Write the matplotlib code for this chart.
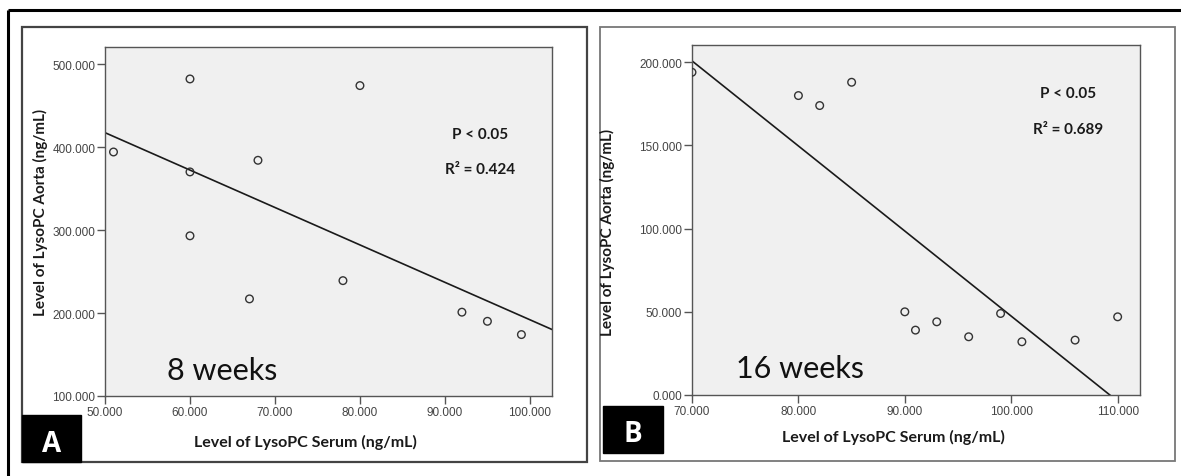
import numpy as np
import matplotlib
matplotlib.use("Agg")
import matplotlib.pyplot as plt
from matplotlib.patches import Rectangle

# ---------------- data ----------------
serum_8w = [51, 60, 80, 68, 60, 60, 67, 78, 92, 95, 99]
aorta_8w = [394, 482, 474, 384, 370, 293, 217, 239, 201, 190, 174]

serum_16w = [70, 80, 82, 85, 90, 91, 93, 96, 99, 101, 106, 110]
aorta_16w = [194, 180, 174, 188, 50, 39, 44, 35, 49, 32, 33, 47]

xticks_8w = [50, 60, 70, 80, 90, 100]
yticks_8w = [100, 200, 300, 400, 500]
xticks_16w = [70, 80, 90, 100, 110]
yticks_16w = [0, 50, 100, 150, 200]

stats_8w = ["P < 0.05", "R\u00b2 = 0.424"]
stats_16w = ["P < 0.05", "R\u00b2 = 0.689"]
period_labels = ["8 weeks", "16 weeks"]
panel_letters = ["A", "B"]
xlabel = "Level of LysoPC Serum (ng/mL)"
ylabel = "Level of LysoPC Aorta (ng/mL)"

W, H = 1181, 477
fig = plt.figure(figsize=(W / 100, H / 100), dpi=100)
fig.patch.set_facecolor("white")

# overlay for frames in pixel coordinates
ov = fig.add_axes([0, 0, 1, 1], zorder=0)
ov.set_xlim(0, W)
ov.set_ylim(H, 0)
ov.axis("off")
ov.patch.set_alpha(0)

# outer frame (top & left)
ov.plot([8, W], [11, 11], color="black", lw=2.2, solid_capstyle="butt")
ov.plot([8, 8], [11, H], color="black", lw=2.2, solid_capstyle="butt")
# panel boxes
ov.add_patch(Rectangle((22, 28), 565, 435, fill=False, ec="#444444", lw=1.6))
ov.add_patch(Rectangle((600, 28), 575, 434, fill=False, ec="#777777", lw=1.3))
# letter boxes
ov.add_patch(Rectangle((22, 416), 59, 47, color="black"))
ov.add_patch(Rectangle((603, 407), 60, 47, color="black"))
ov.text(52, 445, panel_letters[0], color="white", fontsize=20, fontweight="bold",
        family="Open Sans", ha="center", va="center")
ov.text(633, 435, panel_letters[1], color="white", fontsize=20, fontweight="bold",
        family="Open Sans", ha="center", va="center")


def px_axes(x0, y0, x1, y1):
    return fig.add_axes([x0 / W, 1 - y1 / H, (x1 - x0) / W, (y1 - y0) / H], zorder=2)


def style(ax, xlim, ylim, xt, yt):
    ax.set_facecolor("#f0f0f0")
    ax.set_xlim(*xlim)
    ax.set_ylim(*ylim)
    ax.set_xticks(xt)
    ax.set_yticks(yt)
    ax.set_xticklabels([f"{v:.3f}" for v in xt])
    ax.set_yticklabels([f"{v:.3f}" for v in yt])
    for s in ax.spines.values():
        s.set_color("#555555")
        s.set_linewidth(1.0)
    ax.tick_params(length=6, width=1, color="#555555", labelsize=8.5,
                   labelcolor="#444444", pad=1)
    for lab in ax.get_xticklabels() + ax.get_yticklabels():
        lab.set_family("Liberation Sans")


def panel(ax, x, y, xlim):
    ax.scatter(x, y, s=30, facecolors="none", edgecolors="#333333", linewidths=1.0, zorder=3)
    k, b = np.polyfit(x, y, 1)
    xs = np.array(xlim)
    ax.plot(xs, k * xs + b, color="#1a1a1a", lw=1.2, zorder=2)


# Panel A
axA = px_axes(105, 48, 552, 397)
limA = (50, 102.6)
style(axA, limA, (100, 520.5), xticks_8w, yticks_8w)
panel(axA, serum_8w, aorta_8w, limA)

# Panel B
axB = px_axes(692, 46, 1140, 396)
limB = (70, 112.1)
style(axB, limB, (0, 210.4), xticks_16w, yticks_16w)
panel(axB, serum_16w, aorta_16w, limB)

# labels
xlab_kw = dict(fontsize=11.5, fontweight="bold", family="Lato", color="#1a1a1a",
               ha="center", va="center")
ylab_kw = dict(xlab_kw, fontsize=11)
ov.text(305, 442, xlabel, **xlab_kw)
ov.text(893, 437, xlabel, **xlab_kw)
ov.text(40, 212, ylabel, rotation=90, **ylab_kw)
ov.text(607, 232, ylabel, rotation=90, **ylab_kw)

st_kw = dict(fontsize=11, fontweight="bold", family="Lato", color="#1a1a1a",
             ha="center", va="center", zorder=5)
ov.text(480, 135, stats_8w[0], **st_kw)
ov.text(480, 170, stats_8w[1], **st_kw)
ov.text(1068, 94, stats_16w[0], **st_kw)
ov.text(1068, 130, stats_16w[1], **st_kw)

wk_kw = dict(fontsize=22, family="Lato", color="#111111", ha="center", va="center", zorder=5)
ov.text(222, 371, period_labels[0], **wk_kw)
ov.text(800, 369, period_labels[1], **wk_kw)
ov.set_zorder(3)

fig.savefig("out.png", dpi=100)
